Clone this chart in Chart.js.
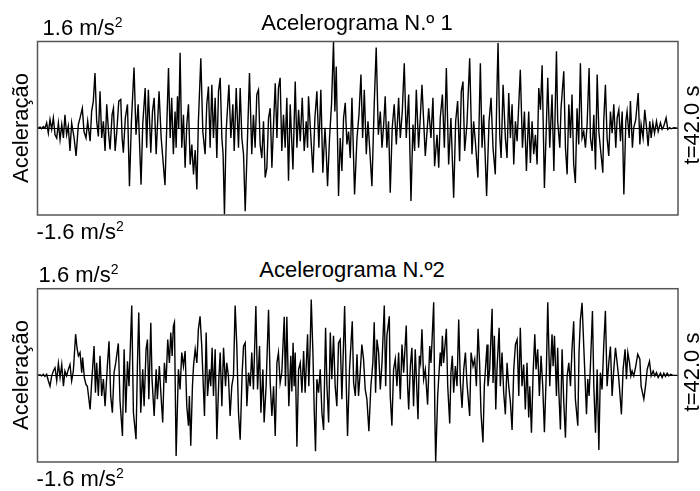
<!DOCTYPE html>
<html>
<head>
<meta charset="utf-8">
<script src="https://cdn.jsdelivr.net/npm/chart.js@4"></script>
<style>
  html, body { margin: 0; padding: 0; background: #fff; }
  #wrap { position: relative; width: 700px; height: 491px; overflow: hidden; font-family: 'Liberation Sans', Arial, sans-serif; color: #000; }
  canvas { position: absolute; left: 0; }
  .lbl { position: absolute; font-size: 22px; line-height: 22px; white-space: nowrap; }
  .lbl sup { font-size: 14px; line-height: 0; vertical-align: 8px; }
  .title { width: 400px; text-align: center; }
  .rot { transform: translate(-50%, -50%) rotate(-90deg); }
</style>
</head>
<body>
<div id="wrap">
  <canvas id="c1" width="700" height="185" style="top:36px"></canvas>
  <canvas id="c2" width="700" height="185" style="top:283px"></canvas>

  <div class="lbl" style="left:42.6px;top:17.4px">1.6 m/s<sup>2</sup></div>
  <div class="lbl title" style="left:157px;top:12.4px">Acelerograma N.º 1</div>
  <div class="lbl" style="left:36.6px;top:221.4px">-1.6 m/s<sup>2</sup></div>
  <div class="lbl rot" style="left:21px;top:128px">Aceleração</div>
  <div class="lbl rot" style="left:691.5px;top:125px">t=42.0 s</div>

  <div class="lbl" style="left:38.6px;top:264.4px">1.6 m/s<sup>2</sup></div>
  <div class="lbl title" style="left:152px;top:259.4px">Acelerograma N.º2</div>
  <div class="lbl" style="left:36.6px;top:468.4px">-1.6 m/s<sup>2</sup></div>
  <div class="lbl rot" style="left:21px;top:375px">Aceleração</div>
  <div class="lbl rot" style="left:691.5px;top:372px">t=42.0 s</div>
</div>
<script>
// accelerogram 1 - time (s) and acceleration (m/s2)
const t1 = [
  0.00, 0.17, 0.27, 0.38, 0.49, 0.60, 0.71, 0.82, 0.93, 1.04, 1.15, 1.26, 1.37, 1.48, 1.59, 1.70, 1.80, 1.91, 2.02, 2.13,
  2.24, 2.40, 2.53, 2.68, 2.79, 2.94, 3.05, 3.18, 3.29, 3.45, 3.55, 3.66, 3.77, 3.88, 3.99, 4.10, 4.21, 4.32, 4.43, 4.54,
  4.67, 4.76, 4.89, 4.98, 5.09, 5.20, 5.33, 5.46, 5.55, 5.63, 5.76, 5.90, 6.03, 6.16, 6.33, 6.46, 6.60, 6.79, 6.90, 7.06,
  7.16, 7.27, 7.43, 7.54, 7.65, 7.78, 7.97, 8.11,
  8.36, 8.59, 8.70, 8.80, 8.91, 9.02, 9.09, 9.18, 9.26, 9.35, 9.46, 9.57, 9.68, 9.79, 9.90, 10.01, 10.12, 10.23, 10.34, 10.45,
  10.55, 10.71, 10.84, 10.99, 11.10, 11.21, 11.32, 11.43, 11.54, 11.65, 11.76, 11.87, 11.98, 12.09, 12.17, 12.26, 12.37, 12.55, 12.68, 12.81,
  12.90, 13.03, 13.18, 13.29, 13.40, 13.51, 13.62, 13.77, 13.90, 14.05, 14.16, 14.27, 14.38, 14.49, 14.60, 14.71, 14.82, 14.93, 15.04, 15.15,
  15.26, 15.37, 15.48, 15.59, 15.70, 15.80, 15.91, 16.02, 16.13, 16.24, 16.35, 16.46, 16.57,
  16.75, 16.90, 17.01, 17.12, 17.23, 17.36, 17.49, 17.62, 17.71, 17.77, 17.93, 18.06, 18.19, 18.32, 18.45, 18.58, 18.71, 18.85, 18.93, 19.02,
  19.15, 19.28, 19.41, 19.50, 19.59, 19.74, 19.85, 19.96, 20.07, 20.18, 20.29, 20.40, 20.51, 20.62, 20.79, 20.95, 21.08, 21.21, 21.32, 21.43,
  21.56, 21.67, 21.78, 21.93, 22.08, 22.21, 22.35, 22.48, 22.59, 22.70, 22.80, 22.91, 23.02, 23.13, 23.26, 23.39, 23.53, 23.68, 23.79, 23.92,
  24.05, 24.18, 24.34, 24.49, 24.62, 24.73, 24.84, 24.99, 25.10, 25.21,
  25.43, 25.65, 25.80, 25.93, 26.04, 26.20, 26.31, 26.41, 26.55, 26.68, 26.81, 26.96, 27.11, 27.29, 27.42, 27.55, 27.68, 27.79, 27.90, 28.01,
  28.16, 28.34, 28.49, 28.60, 28.71, 28.88, 29.04, 29.15, 29.26, 29.45, 29.61, 29.74, 29.87, 30.02, 30.13, 30.20, 30.31, 30.40, 30.53, 30.68,
  30.79, 30.90, 31.01, 31.12, 31.23, 31.34, 31.45, 31.66, 31.80, 31.93, 32.06, 32.21, 32.32, 32.43, 32.54, 32.65, 32.76, 32.87, 32.98, 33.09,
  33.24, 33.37, 33.46, 33.59, 33.74,
  33.86, 34.03, 34.11, 34.25, 34.33, 34.51, 34.62, 34.73, 34.84, 34.95, 35.05, 35.16, 35.27, 35.38, 35.49, 35.60, 35.71, 35.82, 35.93, 36.04,
  36.17, 36.26, 36.37, 36.48, 36.59, 36.70, 36.81, 36.91, 37.07, 37.13, 37.24, 37.35, 37.46, 37.57, 37.68, 37.79, 37.92, 38.01, 38.12, 38.23,
  38.34, 38.45, 38.58, 38.66, 38.80, 38.88, 39.01, 39.10, 39.23, 39.39, 39.50, 39.58, 39.71, 39.82, 39.93, 40.04, 40.15, 40.24, 40.35, 40.46,
  40.59, 40.70, 40.85, 40.96, 41.07, 41.22, 41.33, 41.46, 41.55, 41.73, 41.97
];
const a1 = [
  0, 0.02, -0.01, 0.03, 0, 0.10, -0.09, 0.16, -0.02, 0.19, -0.12, -0.18, 0.10, -0.21, 0.07, -0.18, 0.25, -0.12, 0.04, -0.42,
  0.10, -0.18, -0.51, 0.07, 0.19, 0.37, -0.06, -0.18, 0.13, -0.24, 0.31, 0.50, 1.02, 0.13, -0.15, 0.68, -0.18, 0.13, -0.42, 0.44,
  -0.12, -0.39, 0.25, 0.37, -0.42, -0.06, 0.50, 0.53, -0.18, -0.45, 0.19, 0.44, -1.07, 0.13, 1.12, -0.12, 0.44, -1.04, 0.07, 0.74,
  -0.36, 0.71, -0.45, 0.31, 0.56, -0.48, 0.68, -0.18,
  -1.05, 1.11, -0.18, 0.56, -0.48, 0.31, -0.36, 0.59, 0, 1.39, -0.36, 0.25, -0.73, 0.07, 0.44, -0.67, -0.30, -0.85, -0.40, -1.13,
  0.13, 1.29, -0.06, -0.48, 0.44, 0.77, -0.36, 0.80, -0.18, 0.56, -0.55, 0.68, 0.93, -0.18, -0.48, -1.59, -0.06, 0.80, -0.18, 0.44,
  -0.42, 0.74, -0.36, 0.74, -0.18, -0.48, -1.53, -0.18, 1.02, -0.48, 0.25, -0.36, 0.62, 0.71, -0.30, -0.55, 0.13, -0.91, -0.73, 0.19,
  0.37, -0.73, 0.07, 0.83, -0.18, 0.74, 0.93, -0.42, 0.25, -0.36, 0.56, -0.97, 0.44,
  -0.76, 0.86, -0.36, 0.34, -0.24, 0.56, -0.42, 0.13, -0.36, 0.59, -0.18, -0.82, 0.19, 0.68, -0.36, 0.71, -0.82, 0.01, -0.42, -1.07,
  -0.18, 0.44, 1.60, 0.31, 1.14, -1.25, -0.18, -0.79, 0.19, 0.47, -0.30, -0.06, -0.55, 0.56, -1.22, -0.18, 0.25, 0.99, -0.18, 0.71,
  -0.48, 0.13, -0.36, -1.07, 0.44, 1.49, -0.12, 0.31, -0.36, 0.07, 0.59, -0.36, 0.13, -1.19, 0.01, 0.44, -0.30, 0.56, -0.18, 0.31,
  1.20, -0.18, 0.62, -1.34, 0.07, -0.42, 0.71, -0.36, 0.19, 0.80,
  -0.51, 0.37, -0.18, 0.56, -0.70, -0.12, -0.73, 0.19, 0.62, -0.36, 1.11, -0.67, 0.19, -1.28, 0.13, 0.50, -0.61, 0.68, 0.86, -0.42,
  0.07, 1.29, -0.48, 0.13, -0.24, -0.91, 1.20, -0.36, 0.25, -1.25, 0.13, 0.56, -0.36, -0.85, 0.74, 1.57, -0.12, -0.55, 0.80, -0.18,
  -0.55, 0.65, -0.18, 0.44, -0.67, 0.13, -0.24, 1.08, -0.36, 0.31, -0.79, 0.31, -0.64, 0.13, -0.48, -0.12, -0.67, 0.74, 0.34, 1.16,
  -1.10, 0.07, 0.93, -0.36, 0.62,
  -0.79, 1.42, 0.13, -0.36, 0.37, 1.05, -0.36, -0.85, 0.44, -0.18, 0.62, -0.67, -1.01, 0.37, -0.30, 1.20, -0.18, -0.06, -0.36, 0.07,
  1.11, -0.18, -0.42, 0.25, -0.76, 0.99, -0.06, -0.36, -0.82, 0.13, 0.80, -0.18, -0.51, 0.31, -0.09, 0.44, -0.36, 0.19, 0.34, -0.24,
  0.31, -1.22, 0.13, 0.31, -0.18, 0.50, -0.36, 0.01, 0.16, 0.65, -0.30, 0.07, -0.18, 0.34, 0.04, -0.33, 0.13, -0.18, 0.10, -0.09,
  0.13, -0.06, 0.10, -0.02, 0.04, 0.19, -0.02, 0.01, -0.01, 0.01, 0
];

// accelerogram 2
const t2 = [
  0.00, 0.16, 0.27, 0.38, 0.49, 0.60, 0.71, 0.82, 0.93, 1.04, 1.15, 1.26, 1.37, 1.48, 1.59, 1.70, 1.80, 1.91, 2.02, 2.13,
  2.24, 2.35, 2.50, 2.59, 2.68, 2.79, 2.90, 2.96, 3.07, 3.18, 3.27, 3.45, 3.55, 3.71, 3.80, 3.88, 3.99, 4.10, 4.21, 4.32,
  4.43, 4.58, 4.69, 4.80, 4.91, 5.02, 5.13, 5.30, 5.41, 5.57, 5.68, 5.79, 5.90, 6.00, 6.18, 6.29, 6.46, 6.55, 6.64, 6.77,
  6.90, 6.99, 7.12, 7.21, 7.30, 7.43, 7.51, 7.65, 7.78, 7.86, 7.99, 8.10, 8.21, 8.32,
  8.43, 8.54, 8.65, 8.74, 8.83, 8.91, 8.98, 9.09, 9.24, 9.35, 9.46, 9.57, 9.68, 9.79, 9.90, 9.96, 10.05, 10.16, 10.23, 10.34,
  10.45, 10.55, 10.66, 10.77, 10.95, 11.06, 11.15, 11.28, 11.36, 11.45, 11.54, 11.65, 11.76, 11.89, 11.98, 12.09, 12.20, 12.33, 12.41, 12.52,
  12.63, 12.74, 12.85, 12.96, 13.07, 13.18, 13.29, 13.42, 13.51, 13.62, 13.73, 13.84, 13.95, 14.05, 14.16, 14.32, 14.43, 14.56, 14.65, 14.78,
  14.86, 14.99, 15.15, 15.26, 15.37, 15.48, 15.59, 15.70, 15.80, 15.91, 16.02, 16.18, 16.26, 16.35, 16.48, 16.61, 16.68,
  16.76, 16.83, 16.90, 17.01, 17.12, 17.23, 17.34, 17.45, 17.55, 17.71, 17.79, 17.88, 17.95, 18.06, 18.15, 18.23, 18.32, 18.43, 18.54, 18.65,
  18.76, 18.89, 18.98, 19.09, 19.20, 19.30, 19.41, 19.52, 19.63, 19.74, 19.85, 19.96, 20.14, 20.25, 20.33, 20.46, 20.64, 20.73, 20.84, 20.95,
  21.05, 21.16, 21.27, 21.38, 21.49, 21.60, 21.73, 21.86, 21.99, 22.08, 22.17, 22.26, 22.37, 22.48, 22.59, 22.74, 22.83, 22.91, 23.07, 23.13,
  23.24, 23.35, 23.46, 23.57, 23.68, 23.79, 23.90, 24.01, 24.18, 24.27, 24.34, 24.45, 24.55, 24.66, 24.77, 24.95, 25.04, 25.12,
  25.21, 25.32, 25.43, 25.58, 25.72, 25.80, 25.87, 25.98, 26.06, 26.11, 26.24, 26.33, 26.41, 26.48, 26.55, 26.63, 26.81, 26.90, 27.03, 27.11,
  27.20, 27.29, 27.40, 27.51, 27.62, 27.73, 27.84, 27.95, 28.06, 28.16, 28.34, 28.43, 28.56, 28.67, 28.78, 28.89, 28.99, 29.08, 29.21, 29.30,
  29.48, 29.54, 29.65, 29.81, 29.87, 29.96, 30.05, 30.13, 30.27, 30.35, 30.46, 30.57, 30.68, 30.79, 30.90, 31.01, 31.12, 31.23, 31.34, 31.45,
  31.56, 31.66, 31.77, 31.88, 31.99, 32.10, 32.21, 32.28, 32.39, 32.50, 32.61, 32.69, 32.80, 32.91, 33.02, 33.13, 33.24, 33.37, 33.46, 33.59,
  33.74, 33.81, 33.90, 34.03, 34.11, 34.18, 34.29, 34.40, 34.51, 34.62, 34.73, 34.84, 34.95, 35.05, 35.16, 35.27, 35.43, 35.51, 35.60, 35.71,
  35.82, 36.00, 36.08, 36.17, 36.26, 36.39, 36.48, 36.59, 36.70, 36.81, 36.91, 37.02, 37.13, 37.24, 37.35, 37.46, 37.57, 37.68, 37.79, 37.90,
  38.01, 38.12, 38.29, 38.40, 38.53, 38.62, 38.71, 38.82, 38.91, 38.99, 39.10, 39.21, 39.36, 39.50, 39.58, 39.76, 39.87, 39.98, 40.13, 40.24,
  40.37, 40.48, 40.59, 40.70, 40.85, 40.96, 41.07, 41.18, 41.29, 41.40, 41.51, 41.68, 41.97
];
const a2 = [
  0, 0.01, -0.01, 0.02, -0.02, 0.02, -0.10, -0.20, -0.01, 0.08, 0.14, -0.10, 0.22, -0.04, 0.20, -0.20, 0.08, -0.01, 0.11, 0.20,
  -0.10, 0.08, 0.76, 0.51, 0.36, 0.42, 0.05, 0.33, -0.04, -0.17, -0.20, -0.63, -0.14, 0.54, -0.32, 0.23, -0.38, 0.36, -0.38, -0.07,
  -0.57, 0.17, 0.63, -0.38, -0.69, 0.05, 0.23, 0.59, -0.47, -1.12, 0.48, -0.69, 0.26, -0.20, 1.29, -0.69, -1.18, 0.17, 1.16, -0.69,
  0.11, -0.57, 0.48, 0.66, -0.44, 0.97, -0.07, -0.75, 0.11, -0.44, 0.17, -0.38, -0.87, 0.23,
  -0.14, 0.66, 0.23, 0.79, 0.36, 0.91, 0.98, -1.49, 0.11, -0.26, 0.42, 0.17, 0.45, -0.57, -0.93, -0.38, -1.30, -0.20, 0.17, 0.48,
  0.23, 0.85, 1.09, 0.54, -0.75, 0.79, -0.38, 0.11, -0.20, 0.51, -0.38, 0.48, -1.18, -0.07, 0.42, -0.57, 0.51, -0.20, 0.23, -0.01,
  -0.75, -0.20, -0.01, 1.29, 0.54, -0.69, -1.19, 0.05, 0.54, 0.60, -0.57, 0.05, -0.20, 0.42, -0.26, 1.28, -0.26, 0.54, -0.69, 0.11,
  -0.87, -0.20, 1.21, -0.14, -0.75, -0.20, -1.12, 0.23, 0.42, -0.14, 0.05, 1.08, -0.20, 1.08, -0.57, 0.36, -0.30,
  0.60, -0.20, 0.42, -1.32, 0.11, 0.23, -0.32, 0.45, -0.32, 0.76, -0.20, 0.54, 1.40, 0.42, -0.69, -1.40, -0.07, -0.32, 0.11, -0.69,
  -1.01, 0.88, -0.20, -0.87, 0.79, -0.07, 0.73, -0.20, -0.57, 0.60, 0.66, -0.44, 1.28, -0.20, -1.12, 0.11, 1.00, -0.14, -0.38, 0.39,
  -0.38, 0.05, 0.57, 0.30, -0.26, -0.44, -1.03, -0.20, 0.23, 0.98, -0.32, 0.66, 0.42, -0.26, 0.23, 1.29, -0.20, 0.73, 1.09, -0.38,
  -0.93, 0.11, 0.30, -0.20, 0.42, -0.44, 0.57, 0.05, 0.92, -0.20, -0.63, 0.17, 0.51, -0.57, 0.48, -0.81, 0.36, 0.23,
  0.85, -0.07, 0.11, -0.54, 0.54, 0.23, 0.63, 1.35, -0.81, -1.60, -0.38, 0.05, 0.42, 0.17, 0.73, 0.23, 0.86, -0.20, -0.89, 0.05,
  0.36, -0.32, 0.17, -0.20, 1.03, -0.14, -0.60, 0.11, 0.42, -0.14, -0.75, 0.42, 0.17, 0.30, -0.20, 0.86, 0.23, -0.69, -1.24, -0.20,
  0.57, -0.20, 0.11, 1.23, -0.14, 0.73, -0.63, 0.11, 0.88, -0.20, 0.42, -0.32, -0.72, 0.23, -0.20, -0.50, -1.01, 0.11, 0.57, 0.66,
  -0.38, 0.88, -0.20, 0.20, -0.63, 0.23, -0.78, -0.20, -1.06, 0.05, 0.76, 0.11, 0.48, -0.38, 0.36, -0.20, -1.05, 0.11, 1.35, -0.20,
  0.76, 0.17, 0.73, -0.38, 0.51, -0.26, -1.00, 0.48, -0.50, -1.15, -0.01, 0.23, -0.20, 0.48, 1.00, -0.44, -0.93, 0.42, 1.03, 1.34,
  0.54, -0.72, -0.07, -0.38, 0.20, 1.19, -0.20, -1.06, 0.11, -1.38, 0.05, -0.26, 0.54, 1.19, -0.20, 0.23, 0.53, -0.38, 0.11, 0.51,
  0.23, -0.07, -0.72, 0.11, 0.48, -0.07, 0.42, 0.23, -0.01, 0.08, -0.01, 0.14, 0.39, 0.30, -0.20, -0.44, -0.20, 0.11, 0.26, -0.01,
  0.08, -0.01, 0.05, -0.04, 0.04, -0.04, 0.04, -0.02, 0.04, -0.01, 0.02, 0, 0
];

const T_MAX = 42.0;
const A_MAX = 1.6;

// box around the plot area + the zero line
const framePlugin = {
  id: 'frame',
  beforeDatasetsDraw(chart) {
    const { ctx, chartArea: ca, scales } = chart;
    const y0 = Math.round(scales.y.getPixelForValue(0)) + 0.5;
    ctx.save();
    ctx.strokeStyle = '#000';
    ctx.lineWidth = 1;
    ctx.beginPath();
    ctx.moveTo(ca.left, y0);
    ctx.lineTo(ca.right, y0);
    ctx.stroke();
    ctx.restore();
  },
  afterDraw(chart) {
    const { ctx, chartArea: ca } = chart;
    ctx.save();
    ctx.strokeStyle = '#555';
    ctx.lineWidth = 1.5;
    ctx.strokeRect(ca.left, ca.top, ca.right - ca.left, ca.bottom - ca.top);
    ctx.restore();
  }
};

function makeChart(id, times, accel, pad) {
  const pts = times.map((t, i) => ({ x: t, y: accel[i] }));
  return new Chart(document.getElementById(id), {
    type: 'line',
    data: { datasets: [{ data: pts, borderColor: '#000', borderWidth: 1.4, pointRadius: 0, tension: 0, fill: false }] },
    options: {
      responsive: false,
      animation: false,
      events: [],
      layout: { padding: pad },
      plugins: { legend: { display: false }, tooltip: { enabled: false }, title: { display: false } },
      scales: {
        x: { type: 'linear', min: 0, max: T_MAX, display: false },
        y: { min: -A_MAX, max: A_MAX, display: false }
      }
    },
    plugins: [framePlugin]
  });
}

makeChart('c1', t1, a1, { left: 37.5, right: 22, top: 5.5, bottom: 6 });
makeChart('c2', t2, a2, { left: 37.5, right: 22, top: 5.7, bottom: 6 });
</script>
</body>
</html>
